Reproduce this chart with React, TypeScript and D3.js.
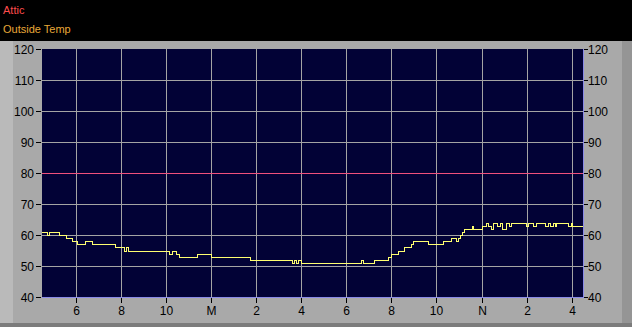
import React from "react";
import * as d3 from "d3";

// ---- data ----
const legendNames = ["Attic", "Outside Temp"];
const xTickValues = [18, 20, 22, 24, 26, 28, 30, 32, 34, 36, 38, 40];
const xTickLabels = ["6", "8", "10", "M", "2", "4", "6", "8", "10", "N", "2", "4"];
const yTickValues = [40, 50, 60, 70, 80, 90, 100, 110, 120];

const atticHours = [16.5, 40.5];
const atticTemps = [80, 80];

const outsideHours = [
  16.5, 16.74, 16.82, 17.27, 17.6, 17.86, 18.08, 18.41, 18.75, 19.78, 20.15, 20.26, 20.33,
  22.15, 22.3, 22.48, 22.62, 23.39, 24.03, 25.77, 27.62, 27.7, 27.78, 27.88, 28.0, 30.68,
  30.76, 31.23, 31.86, 32.0, 32.31, 32.57, 32.9, 33.0, 33.64, 34.3, 34.68, 34.87, 34.97,
  35.05, 35.15, 35.24, 35.61, 35.66, 36.05, 36.2, 36.3, 36.45, 36.52, 36.7, 36.82, 36.94,
  37.12, 37.23, 37.34, 37.98, 38.08, 38.3, 38.45, 38.82, 38.96, 39.04, 39.19, 39.26, 39.33,
  39.85, 39.97, 40.03, 40.5,
];
const outsideTemps = [
  61, 60, 61, 60, 59, 58, 57, 58, 57, 56, 55, 56, 55,
  54, 55, 54, 53, 54, 53, 52, 51, 52, 51, 52, 51, 52,
  51, 52, 53, 54, 55, 56, 57, 58, 57, 58, 59, 58, 59,
  60, 61, 62, 63, 62, 63, 64, 63, 62, 64, 63, 64, 62,
  64, 63, 64, 63, 64, 63, 64, 63, 64, 63, 64, 63, 64,
  63, 64, 63, 63,
];

const W = 632;
const H = 327;
const plot = { left: 42, right: 583, top: 49, bottom: 297 };

export default function App() {
  const x = d3.scaleLinear().domain([16.5, 40.5]).range([plot.left, plot.right]);
  const y = d3.scaleLinear().domain([40, 120]).range([plot.bottom, plot.top]);

  const line = d3
    .line<[number, number]>()
    .x((d) => x(d[0]))
    .y((d) => Math.round(y(d[1])) + 0.5)
    .curve(d3.curveStepAfter);

  const outside: [number, number][] = outsideHours.map((h, i) => [h, outsideTemps[i]]);
  const attic: [number, number][] = atticHours.map((h, i) => [h, atticTemps[i]]);

  const font = "'Liberation Sans', Arial, sans-serif";

  return (
    <svg
      width={W}
      height={H}
      style={{ position: "absolute", left: 0, top: 0, display: "block" }}
      fontFamily={font}
    >
      <rect x={0} y={0} width={W} height={H} fill="#000" />
      {/* panel */}
      <rect x={0} y={41} width={W} height={H - 41} fill="#a9a9a9" />
      <rect x={0} y={41} width={13} height={H - 41} fill="#bababa" />
      <rect x={622} y={41} width={W - 622} height={H - 41} fill="#959595" />
      <rect x={0} y={323} width={W} height={4} fill="#7c7c7c" />

      {/* legend */}
      <text x={3} y={14} fill="#ff4c4c" fontSize={11}>{legendNames[0]}</text>
      <text x={3} y={33} fill="#e8a838" fontSize={11}>{legendNames[1]}</text>

      {/* plot background */}
      <rect
        x={plot.left}
        y={plot.top}
        width={plot.right - plot.left}
        height={plot.bottom - plot.top}
        fill="#020236"
      />
      {/* grid */}
      <g stroke="#a4a4a4" strokeWidth={1} shapeRendering="crispEdges">
        {xTickValues.map((v) => (
          <line key={"gx" + v} x1={Math.round(x(v)) + 0.5} x2={Math.round(x(v)) + 0.5} y1={plot.top} y2={plot.bottom} />
        ))}
        {yTickValues.filter((v) => v !== 40 && v !== 120 && v !== 80).map((v) => (
          <line key={"gy" + v} x1={plot.left} x2={plot.right} y1={Math.round(y(v)) + 0.5} y2={Math.round(y(v)) + 0.5} />
        ))}
      </g>
      {/* border bottom/right */}
      <g stroke="#8a8ae8" strokeWidth={1} shapeRendering="crispEdges">
        <line x1={plot.left} x2={plot.right + 1} y1={plot.bottom + 0.5} y2={plot.bottom + 0.5} />
        <line x1={plot.right + 0.5} x2={plot.right + 0.5} y1={plot.top} y2={plot.bottom + 1} />
      </g>

      {/* series */}
      <path d={line(attic) || ""} fill="none" stroke="#f0507c" strokeWidth={1} shapeRendering="crispEdges" />
      <path d={line(outside) || ""} fill="none" stroke="#ffff70" strokeWidth={1} shapeRendering="crispEdges" />

      {/* left & right axes */}
      <g fontSize={12} fill="#000">
        {yTickValues.map((v) => {
          const yy = Math.round(y(v)) + 0.5;
          return (
            <g key={"ly" + v}>
              <line x1={36} x2={41} y1={yy} y2={yy} stroke="#000" shapeRendering="crispEdges" />
              <text x={34} y={yy + 4.5} textAnchor="end">{v}</text>
              <line x1={584} x2={588} y1={yy} y2={yy} stroke="#000" shapeRendering="crispEdges" />
              <text x={588} y={yy + 4.5} textAnchor="start">{v}</text>
            </g>
          );
        })}
      </g>

      {/* bottom axis */}
      <g fontSize={12} fill="#000">
        {xTickValues.map((v, i) => {
          const xx = Math.round(x(v)) + 0.5;
          return (
            <g key={"bx" + v}>
              <line x1={xx} x2={xx} y1={plot.bottom + 1} y2={plot.bottom + 6} stroke="#000" shapeRendering="crispEdges" />
              <text x={xx} y={315} textAnchor="middle">{xTickLabels[i]}</text>
            </g>
          );
        })}
      </g>
    </svg>
  );
}
